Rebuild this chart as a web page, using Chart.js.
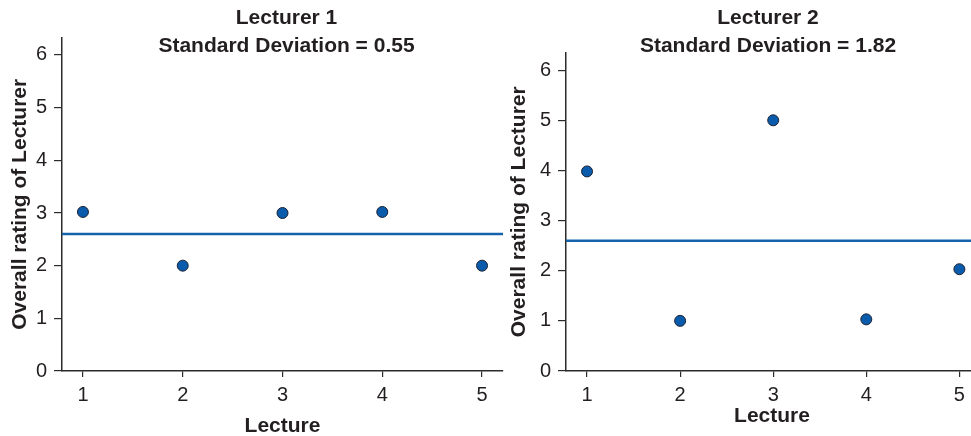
<!DOCTYPE html>
<html>
<head>
<meta charset="utf-8">
<script src="https://cdn.jsdelivr.net/npm/chart.js@4"></script>
<style>
	html, body { margin:0; padding:0; background:#fff; overflow:hidden; }
	#wrap { position:relative; width:971px; height:436px; overflow:hidden; }
	.box { position:absolute; top:0; height:436px; }
	#box1 { left:0; width:574px; }
	#box2 { left:490px; width:556px; }
</style>
</head>
<body>
<div id="wrap">
	<div class="box" id="box1"><canvas id="chart1"></canvas></div>
	<div class="box" id="box2"><canvas id="chart2"></canvas></div>
</div>
<script>
//Data
var lectures = [1, 2, 3, 4, 5];
var ratings1 = [3.02, 2, 3, 3.02, 2];
var ratings2 = [3.98, 1, 5, 1.03, 2.03];
var mean1 = 2.6;
var mean2 = 2.6;
var titles1 = ["Lecturer 1", "Standard Deviation = 0.55"];
var titles2 = ["Lecturer 2", "Standard Deviation = 1.82"];
var yTicks = [0, 1, 2, 3, 4, 5, 6];

var textColor = "#231f20";
var axisColor = "#2b2b2b";
var dotColor = "#0a5bac";
var lineColor = "#1463ab";
var fontName = "'Liberation Sans', Arial, sans-serif";

//the title sits a bit right of the plot centre in the original
function titleShift(px) {
	return {
		id: "titleShift",
		afterLayout: function(chart) {
			var t = chart.titleBlock;
			if (t) {
				t.left += px;
				t.right += px;
			}
		}
	};
}

function makeChart(canvasId, ratings, mean, titleLines, cfg) {
	var points = lectures.map(function(l, i) { return {x: l, y: ratings[i]}; });
	var meanLine = [{x: cfg.xMin, y: mean}, {x: cfg.xMax, y: mean}];

	return new Chart(document.getElementById(canvasId), {
		type: "scatter",
		data: {
			datasets: [
				{
					type: "line",
					data: meanLine,
					borderColor: lineColor,
					borderWidth: 2.5,
					pointRadius: 0,
					fill: false
				},
				{
					data: points,
					backgroundColor: dotColor,
					borderColor: "#1c2233",
					borderWidth: 1,
					pointRadius: 5.5
				}
			]
		},
		plugins: [titleShift(cfg.titleShift)],
		options: {
			responsive: true,
			maintainAspectRatio: false,
			animation: false,
			layout: { padding: { left: 0, right: cfg.padRight, top: 0, bottom: 0 } },
			plugins: {
				legend: { display: false },
				tooltip: { enabled: false },
				title: {
					display: true,
					text: titleLines,
					color: textColor,
					font: { family: fontName, size: 21, weight: "bold", lineHeight: 1.3 },
					padding: { top: 5, bottom: cfg.titleBottom }
				}
			},
			scales: {
				x: {
					type: "linear",
					min: cfg.xMin,
					max: cfg.xMax,
					afterFit: function(scale) { scale.height = 65; },
					afterBuildTicks: function(scale) {
						scale.ticks = lectures.map(function(v) { return {value: v}; });
					},
					grid: { drawOnChartArea: false, drawTicks: true, tickLength: 6, color: axisColor, lineWidth: 1.2 },
					border: { color: axisColor, width: 1.5 },
					ticks: { color: textColor, padding: 6, font: { family: fontName, size: 20 } },
					title: {
						display: true,
						text: "Lecture",
						color: textColor,
						font: { family: fontName, size: 21, weight: "bold", lineHeight: 1 },
						padding: { top: 0, bottom: cfg.xTitleBottom }
					}
				},
				y: {
					min: 0,
					max: cfg.yMax,
					afterFit: function(scale) { scale.width = cfg.yWidth; },
					afterBuildTicks: function(scale) {
						scale.ticks = yTicks.map(function(v) { return {value: v}; });
					},
					grid: { drawOnChartArea: false, drawTicks: true, tickLength: 8, color: axisColor, lineWidth: 1.2 },
					border: { color: axisColor, width: 1.5 },
					ticks: { color: textColor, padding: 7, font: { family: fontName, size: 20 } },
					title: {
						display: true,
						text: "Overall rating of Lecturer",
						color: textColor,
						font: { family: fontName, size: 21, weight: "bold", lineHeight: 1 },
						padding: { top: cfg.yTitleTop, bottom: 0 }
					}
				}
			}
		}
	});
}

makeChart("chart1", ratings1, mean1, titles1, {
	xMin: 0.79, xMax: 5.21, yMax: 6.33,
	padRight: 71, yWidth: 62, titleBottom: -22,
	xTitleBottom: -1, yTitleTop: 10, titleShift: 35
});

makeChart("chart2", ratings2, mean2, titles2, {
	xMin: 0.774, xMax: 5.2, yMax: 6.35,
	padRight: 68, yWidth: 76, titleBottom: -7,
	xTitleBottom: 9.5, yTitleTop: 19, titleShift: 34
});
</script>
</body>
</html>
